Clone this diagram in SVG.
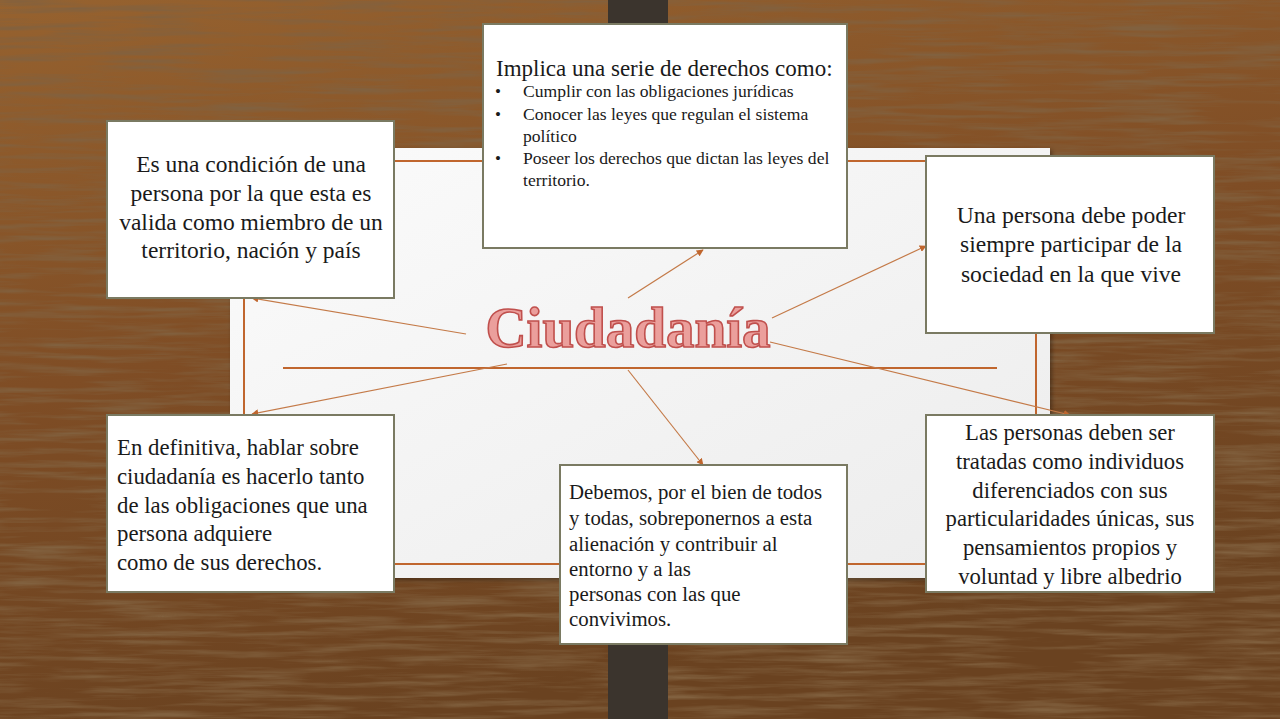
<svg xmlns="http://www.w3.org/2000/svg" width="1280" height="719" viewBox="0 0 1280 719">
<defs>
<linearGradient id="woodg" x1="0" y1="0" x2="0.3" y2="1">
<stop offset="0" stop-color="#96622f"/>
<stop offset="0.5" stop-color="#7f4d25"/>
<stop offset="1" stop-color="#6a4220"/>
</linearGradient>
<linearGradient id="panelg" x1="0" y1="0" x2="1" y2="1">
<stop offset="0" stop-color="#fbfbfb"/>
<stop offset="1" stop-color="#ececec"/>
</linearGradient>
<filter id="grain" x="0" y="0" width="100%" height="100%">
<feTurbulence type="fractalNoise" baseFrequency="0.01 0.16" numOctaves="4" seed="11"/>
<feColorMatrix type="matrix" values="0 0 0 0 0.22  0 0 0 0 0.12  0 0 0 0 0.05  2.2 0 0 0 -0.9"/>
</filter>
<filter id="shadow" x="-10%" y="-10%" width="120%" height="120%">
<feDropShadow dx="2" dy="2" stdDeviation="2" flood-color="#000" flood-opacity="0.35"/>
</filter>
<marker id="arr" viewBox="0 0 10 10" refX="9" refY="5" markerWidth="7" markerHeight="7" orient="auto" markerUnits="userSpaceOnUse">
<path d="M0,0 L10,5 L0,10 z" fill="#c0662e"/>
</marker>
<style>
.box{fill:#ffffff;stroke:#7a7a62;stroke-width:2;}
.t{fill:#1a1a1a;}
.c{text-anchor:middle;}
.frame{stroke:#c0662e;stroke-width:2;fill:none;}
.conn{stroke:#c47a48;stroke-width:1.2;fill:none;marker-end:url(#arr);}
</style>
</defs>

<g id="background">
<rect x="0" y="0" width="1280" height="719" fill="url(#woodg)"/>
<rect x="0" y="0" width="1280" height="719" filter="url(#grain)"/>
<rect x="608" y="0" width="60" height="719" fill="#3b342d"/>
</g>

<g id="panel">
<rect x="230" y="148" width="820" height="430" fill="url(#panelg)" filter="url(#shadow)"/>
<rect class="frame" x="244" y="161" width="792" height="403"/>
<line class="frame" x1="283" y1="368" x2="997" y2="368"/>
</g>

<g id="connectors">
<line class="conn" x1="466" y1="334" x2="252" y2="298"/>
<line class="conn" x1="628" y1="298" x2="703" y2="250"/>
<line class="conn" x1="772" y1="318" x2="926" y2="246"/>
<line class="conn" x1="507" y1="364" x2="252" y2="414"/>
<line class="conn" x1="628" y1="370" x2="703" y2="465"/>
<line class="conn" x1="770" y1="342" x2="1070" y2="415"/>
</g>

<g id="title">
<text x="628" y="347" text-anchor="middle" font-family="Liberation Serif, Times New Roman, serif" font-weight="bold" font-size="57" fill="#eb9f9c" stroke="#c0504d" stroke-width="1.6">Ciudadanía</text>
</g>

<g id="node-condicion" font-family="Liberation Serif, Times New Roman, serif">
<rect class="box" x="107" y="121" width="287" height="177"/>
<text class="t c" font-size="23.5" x="251" y="172">Es una condición de una</text>
<text class="t c" font-size="23.5" x="251" y="201">persona por la que esta es</text>
<text class="t c" font-size="23.5" x="251" y="230">valida como miembro de un</text>
<text class="t c" font-size="23.5" x="251" y="258">territorio, nación y país</text>
</g>

<g id="node-derechos" font-family="Liberation Serif, Times New Roman, serif">
<rect class="box" x="483" y="24" width="364" height="224"/>
<text class="t" font-size="23" x="496" y="76">Implica una serie de derechos como:</text>
<text class="t" font-size="17" x="495" y="97">•</text>
<text class="t" font-size="17.6" x="523" y="97">Cumplir con las obligaciones jurídicas</text>
<text class="t" font-size="17" x="495" y="120">•</text>
<text class="t" font-size="17.6" x="523" y="120">Conocer las leyes que regulan el sistema</text>
<text class="t" font-size="17.6" x="523" y="142">político</text>
<text class="t" font-size="17" x="495" y="164">•</text>
<text class="t" font-size="17.6" x="523" y="164">Poseer los derechos que dictan las leyes del</text>
<text class="t" font-size="17.6" x="523" y="186">territorio.</text>
</g>

<g id="node-participar" font-family="Liberation Serif, Times New Roman, serif">
<rect class="box" x="926" y="156" width="288" height="177"/>
<text class="t c" font-size="23.6" x="1071" y="223">Una persona debe poder</text>
<text class="t c" font-size="23.6" x="1071" y="252">siempre participar de la</text>
<text class="t c" font-size="23.6" x="1071" y="282">sociedad en la que vive</text>
</g>

<g id="node-definitiva" font-family="Liberation Serif, Times New Roman, serif">
<rect class="box" x="107" y="415" width="287" height="177"/>
<text class="t" font-size="22.8" x="117" y="455">En definitiva, hablar sobre</text>
<text class="t" font-size="22.8" x="117" y="484">ciudadanía es hacerlo tanto</text>
<text class="t" font-size="22.8" x="117" y="513">de las obligaciones que una</text>
<text class="t" font-size="22.8" x="117" y="541">persona adquiere</text>
<text class="t" font-size="22.8" x="117" y="570">como de sus derechos.</text>
</g>

<g id="node-debemos" font-family="Liberation Serif, Times New Roman, serif">
<rect class="box" x="560" y="465" width="287" height="179"/>
<text class="t" font-size="20.8" x="569" y="499">Debemos, por el bien de todos</text>
<text class="t" font-size="20.8" x="569" y="525">y todas, sobreponernos a esta</text>
<text class="t" font-size="20.8" x="569" y="551">alienación y contribuir al</text>
<text class="t" font-size="20.8" x="569" y="576">entorno y a las</text>
<text class="t" font-size="20.8" x="569" y="601">personas con las que</text>
<text class="t" font-size="20.8" x="569" y="626">convivimos.</text>
</g>

<g id="node-individuos" font-family="Liberation Serif, Times New Roman, serif">
<rect class="box" x="926" y="415" width="288" height="177"/>
<text class="t c" font-size="22.7" x="1070" y="440">Las personas deben ser</text>
<text class="t c" font-size="22.7" x="1070" y="469">tratadas como individuos</text>
<text class="t c" font-size="22.7" x="1070" y="498">diferenciados con sus</text>
<text class="t c" font-size="22.7" x="1070" y="526">particularidades únicas, sus</text>
<text class="t c" font-size="22.7" x="1070" y="555">pensamientos propios y</text>
<text class="t c" font-size="22.7" x="1070" y="584">voluntad y libre albedrio</text>
</g>
</svg>
